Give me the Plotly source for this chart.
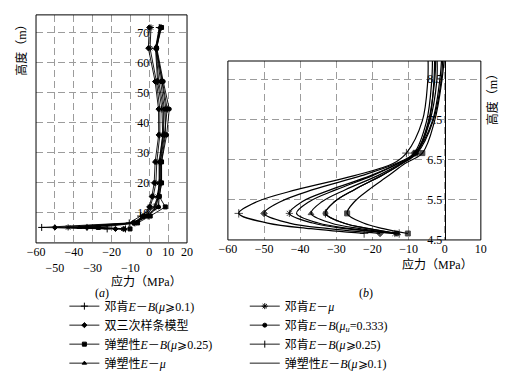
import plotly.graph_objects as go

FONT = "Liberation Serif, Noto Sans CJK SC, serif"

# ---------------- legend names (one per series) ----------------
NAMES = [
    "邓肯<i>E</i>－<i>B</i>(<i>μ</i>⩾0.1)",
    "双三次样条模型",
    "弹塑性<i>E</i>－<i>B</i>(<i>μ</i>⩾0.25)",
    "弹塑性<i>E</i>－<i>μ</i>",
    "邓肯<i>E</i>－<i>μ</i>",
    "邓肯<i>E</i>－<i>B</i>(<i>μ</i><sub><i>u</i></sub>=0.333)",
    "邓肯<i>E</i>－<i>B</i>(<i>μ</i>⩾0.25)",
    "弹塑性<i>E</i>－<i>B</i>(<i>μ</i>⩾0.1)",
]

# ---------------- panel (a): whole height (m) ----------------
A_HEIGHT = [4.66, 5.16, 6.66, 8.95, 12, 15.5, 20, 27, 36, 44.6, 53.8, 64.9, 71.8]
A_S1 = [-22.3, -57, -10.6, -4.6, 2.6, 4.4, 5.3, 5.3, 7.1, 6.7, 4.4, 3.3, 5.3]
A_S2 = [-17.9, -50, -8.5, -3.4, 0.0, 1.4, 2.6, 3.1, 5.0, 4.9, 3.1, -0.5, 0.0]
A_S3 = [-10.2, -27, -6.2, 0.5, 8.5, 5.3, 6.5, 6.5, 8.5, 8.8, 6.7, 3.8, 6.5]
A_S4 = [-13.0, -37, -7.8, -2.1, 4.9, 4.4, 5.3, 5.3, 7.3, 7.5, 5.0, 3.5, 5.8]
A_S5 = [-13.8, -43, -8.0, -2.5, 0.5, 2.1, 3.5, 4.0, 5.6, 5.6, 3.8, 0.4, 0.9]
A_S6 = [-13.3, -33, -8.0, -0.9, 4.9, 5.3, 6.5, 6.5, 9.2, 10.6, 7.4, 4.0, 6.0]
A_S7 = [-12.6, -33, -7.6, -0.6, 3.5, 4.8, 6.0, 6.0, 8.0, 9.5, 7.0, 3.7, 6.2]
A_S8 = [-13.5, -41, -8.2, -2.8, 3.0, 4.6, 5.6, 5.8, 7.5, 8.0, 6.0, 3.6, 5.5]

# ---------------- panel (b): zoom on 4.5–9 m ----------------
B_HEIGHT = [4.66, 4.78, 4.92, 5.16, 5.45, 5.75, 6.10, 6.40, 6.66, 7.46, 8.45, 8.95]
B_S1 = [-22.3, -37, -49, -57, -52, -41, -25, -14.3, -10.6, -6.2, -4.7, -4.6]
B_S2 = [-17.9, -32, -43, -50, -45.5, -36.5, -23, -13.5, -8.5, -5.0, -3.6, -3.4]
B_S3 = [-10.2, -17, -22.5, -27, -25, -21, -15.5, -11, -6.2, -2.8, -0.8, -0.2]
B_S4 = [-13.0, -23.5, -31.5, -37, -34, -27.5, -18.5, -12.2, -7.8, -4.1, -2.2, -2.1]
B_S5 = [-13.8, -27.5, -36.5, -43, -39.5, -31.5, -20.5, -13, -8.0, -4.5, -2.8, -2.5]
B_S6 = [-13.3, -21, -28, -33, -30.5, -25, -17.5, -11.8, -8.0, -3.4, -1.4, -0.9]
B_S7 = [-12.6, -21, -28, -33, -30.5, -25, -17.5, -11.8, -7.6, -3.2, -1.0, -0.6]
B_S8 = [-13.5, -26, -35, -41, -37.5, -30, -20, -12.8, -8.2, -4.3, -3.0, -2.8]
B_MARKED = [0, 3, 8]  # indices of B_HEIGHT that carry a marker

A_SERIES = [A_S1, A_S2, A_S3, A_S4, A_S5, A_S6, A_S7, A_S8]
B_SERIES = [B_S1, B_S2, B_S3, B_S4, B_S5, B_S6, B_S7, B_S8]

A_XTICKS = [-60, -50, -40, -30, -20, -10, 0, 10, 20]
A_XTEXT = ["−60", "<br>−50", "−40", "<br>−30", "−20", "<br>−10", "0", "10", "20"]
A_YTICKS = [10, 20, 30, 40, 50, 60, 70]
B_XTICKS = [-60, -50, -40, -30, -20, -10, 0, 10]
B_YTICKS = [4.5, 5.5, 6.5, 7.5, 8.5]

# styles
SYMBOLS = ["cross-thin-open", "diamond", "square", "triangle-up",
           "asterisk-open", "circle", "line-ns-open", "circle"]
MSIZE = [5, 4, 4, 4, 5, 4, 5, 0]
LEGENDS = ["legend", "legend", "legend", "legend",
           "legend2", "legend2", "legend2", "legend2"]

fig = go.Figure()

for i in range(8):
    msize = MSIZE[i]
    mk = dict(symbol=SYMBOLS[i], size=msize, color="black",
              line=dict(color="black", width=1))
    fig.add_trace(go.Scatter(
        x=A_SERIES[i], y=A_HEIGHT, xaxis="x", yaxis="y",
        mode="lines+markers" if msize else "lines",
        line=dict(color="black", width=0.9),
        marker=mk, name=NAMES[i], legendgroup=str(i),
        legend=LEGENDS[i], showlegend=True, hoverinfo="skip"))
    sizes = [msize + 1 if j in B_MARKED else 0 for j in range(len(B_HEIGHT))]
    mk2 = dict(symbol=SYMBOLS[i], size=sizes, color="black",
               line=dict(color="black", width=1))
    fig.add_trace(go.Scatter(
        x=B_SERIES[i], y=B_HEIGHT, xaxis="x2", yaxis="y2",
        mode="lines+markers" if msize else "lines",
        line=dict(color="black", width=1.2, shape="spline", smoothing=1.0),
        marker=mk2, name=NAMES[i], legendgroup=str(i),
        legend=LEGENDS[i], showlegend=False, hoverinfo="skip"))

GRID = dict(showgrid=True, gridcolor="#9c9c9c", gridwidth=1, griddash="7px,4px",
            zeroline=False, ticks="", tickangle=0,
            tickfont=dict(family=FONT, size=12, color="black"))

LEG = dict(xanchor="left", yanchor="top", yref="container", xref="container",
           bgcolor="rgba(0,0,0,0)", tracegroupgap=0,
           font=dict(family=FONT, size=12, color="black"))

fig.update_layout(
    width=511, height=372,
    margin=dict(l=0, r=0, t=0, b=0, autoexpand=False),
    paper_bgcolor="white", plot_bgcolor="white",
    font=dict(family=FONT, size=12, color="black"),
    xaxis=dict(domain=[0.0705, 0.366], range=[-60, 20], anchor="y",
               tickvals=A_XTICKS, ticktext=A_XTEXT, showline=False, **GRID),
    yaxis=dict(domain=[0.347, 0.960], range=[0, 76], anchor="free", position=0.2921,
               tickvals=A_YTICKS, showline=False, **GRID),
    xaxis2=dict(domain=[0.446, 0.941], range=[-60, 10], anchor="y2",
                tickvals=B_XTICKS, showline=False, **GRID),
    yaxis2=dict(domain=[0.355, 0.836], range=[4.5, 8.95], anchor="free", position=0.8703,
                tickvals=B_YTICKS, tickformat=".1f", showline=True,
                linecolor="black", linewidth=1, **GRID),
    legend=dict(x=0.126, y=0.216, **LEG),
    legend2=dict(x=0.479, y=0.216, **LEG),
    shapes=[
        dict(type="rect", xref="x domain", yref="y domain", x0=0, x1=1, y0=0, y1=1,
             line=dict(color="black", width=1)),
        dict(type="rect", xref="x2 domain", yref="y2 domain", x0=0, x1=1, y0=0, y1=1,
             line=dict(color="black", width=1)),
    ],
    annotations=[
        dict(text="高度（m）", x=0.043, y=0.874, xref="paper", yref="paper",
             xanchor="center", yanchor="middle",
             textangle=-90, showarrow=False, font=dict(size=12)),
        dict(text="应力（MPa）", x=0.286, y=0.242, xref="paper", yref="paper",
             xanchor="center", yanchor="middle", showarrow=False, font=dict(size=12)),
        dict(text="(<i>a</i>)", x=0.200, y=0.212, xref="paper", yref="paper",
             xanchor="center", yanchor="middle", showarrow=False, font=dict(size=12)),
        dict(text="高度（m）", x=0.963, y=0.739, xref="paper", yref="paper",
             xanchor="center", yanchor="middle",
             textangle=-90, showarrow=False, font=dict(size=12)),
        dict(text="应力（MPa）", x=0.857, y=0.288, xref="paper", yref="paper",
             xanchor="center", yanchor="middle", showarrow=False, font=dict(size=12)),
        dict(text="(<i>b</i>)", x=0.716, y=0.212, xref="paper", yref="paper",
             xanchor="center", yanchor="middle", showarrow=False, font=dict(size=12)),
    ],
)

fig.write_html("out.html",
               config={"displayModeBar": False},
               post_script="document.body.style.margin='0';"
                           "document.body.style.overflow='hidden';")
